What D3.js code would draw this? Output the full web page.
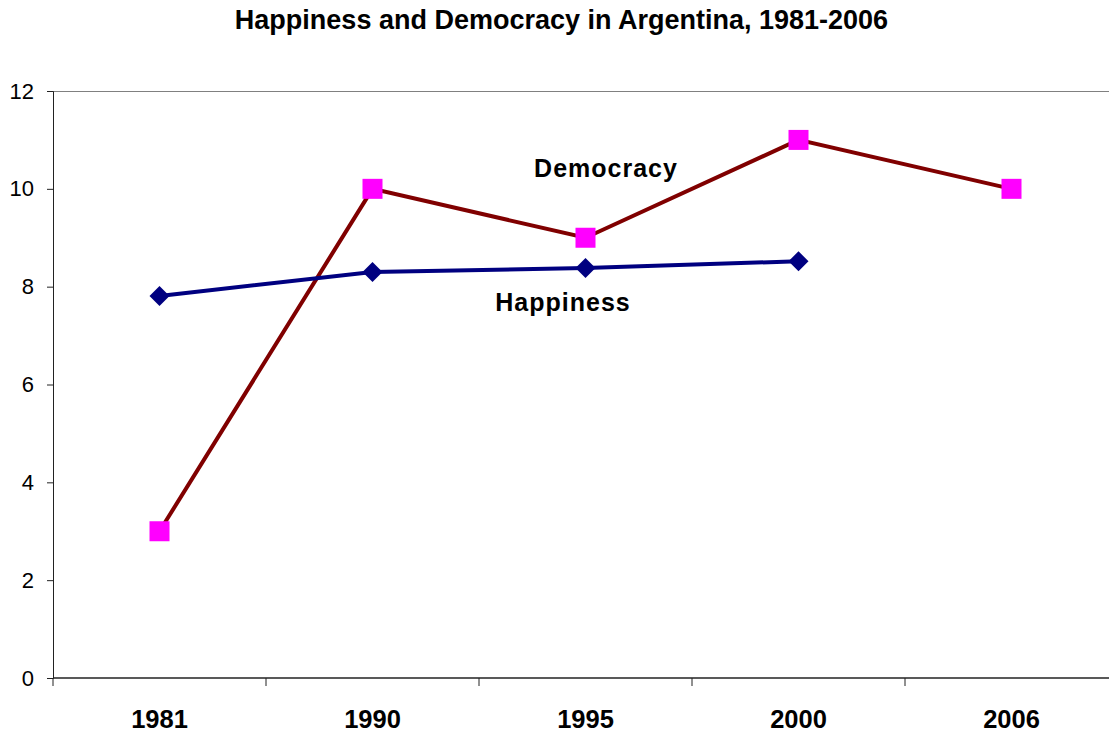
<!DOCTYPE html>
<html>
<head>
<meta charset="utf-8">
<script src="https://cdn.jsdelivr.net/npm/d3@7/dist/d3.min.js"></script>
<style>
  body { margin: 0; background: #fff; }
  svg { display: block; font-family: Arial, "Liberation Sans", sans-serif; }
</style>
</head>
<body>
<svg id="chart" width="1109" height="736"></svg>
<script>
const years = ["1981", "1990", "1995", "2000", "2006"];
const happiness = [7.81, 8.30, 8.38, 8.52, null];
const democracy = [3, 10, 9, 11, 10];
const yTicks = [0, 2, 4, 6, 8, 10, 12];

const svg = d3.select("#chart");
const W = 1109, H = 736;
const m = { left: 53, right: -9, top: 91, bottom: 58 };

const x = d3.scaleBand().domain(years).range([m.left, W - m.right]);
const y = d3.scaleLinear().domain([0, 12]).range([H - m.bottom, m.top]);

// title
svg.append("text")
  .attr("x", 561.5).attr("y", 29)
  .attr("text-anchor", "middle")
  .attr("font-size", 27).attr("font-weight", "bold")
  .text("Happiness and Democracy in Argentina, 1981-2006");

// top border of the plot area
svg.append("line")
  .attr("x1", m.left).attr("x2", W)
  .attr("y1", y(12) + 0.5).attr("y2", y(12) + 0.5)
  .attr("stroke", "#808080").attr("stroke-width", 1);

// y axis
const yAxis = svg.append("g")
  .attr("transform", `translate(${m.left},0)`)
  .call(d3.axisLeft(y).tickValues(yTicks).tickSize(6).tickPadding(13));
yAxis.selectAll("text").attr("font-size", 22).attr("fill", "#000")
  .attr("font-family", "Arial, 'Liberation Sans', sans-serif");
yAxis.selectAll("line, path").attr("stroke", "#222");

// x axis: ticks at band boundaries
const xAxisG = svg.append("g").attr("transform", `translate(0,${y(0)})`);
xAxisG.append("line")
  .attr("x1", m.left).attr("x2", W)
  .attr("y1", 0).attr("y2", 0)
  .attr("stroke", "#222").attr("stroke-width", 1.5);
xAxisG.selectAll("line.tick")
  .data(years)
  .join("line")
  .attr("class", "tick")
  .attr("x1", d => x(d)).attr("x2", d => x(d))
  .attr("y1", 0).attr("y2", 8)
  .attr("stroke", "#222");
xAxisG.selectAll("text")
  .data(years)
  .join("text")
  .attr("x", d => x(d) + x.bandwidth() / 2)
  .attr("y", 50)
  .attr("text-anchor", "middle")
  .attr("font-size", 25.5).attr("font-weight", "bold")
  .text(d => d);

const cx = d => x(d) + x.bandwidth() / 2;

// democracy line
const demoPts = years.map((d, i) => [cx(d), y(democracy[i])]);
svg.append("path")
  .attr("d", d3.line()(demoPts))
  .attr("fill", "none").attr("stroke", "#800000").attr("stroke-width", 4)
  .attr("stroke-linejoin", "miter");

// happiness line
const hapPts = years.map((d, i) => happiness[i] == null ? null : [cx(d), y(happiness[i])]).filter(p => p);
svg.append("path")
  .attr("d", d3.line()(hapPts))
  .attr("fill", "none").attr("stroke", "#000080").attr("stroke-width", 4);

// happiness markers (diamonds)
svg.selectAll("path.hap")
  .data(hapPts)
  .join("path")
  .attr("class", "hap")
  .attr("d", p => `M${p[0]},${p[1] - 10}L${p[0] + 10},${p[1]}L${p[0]},${p[1] + 10}L${p[0] - 10},${p[1]}Z`)
  .attr("fill", "#000080");

// democracy markers (squares)
svg.selectAll("rect.demo")
  .data(demoPts)
  .join("rect")
  .attr("class", "demo")
  .attr("x", p => p[0] - 10).attr("y", p => p[1] - 10)
  .attr("width", 20).attr("height", 20)
  .attr("fill", "#FF00FF");

// series labels
svg.append("text")
  .attr("x", 606).attr("y", 177)
  .attr("text-anchor", "middle")
  .attr("font-size", 25).attr("font-weight", "bold")
  .attr("letter-spacing", 1)
  .text("Democracy");
svg.append("text")
  .attr("x", 563).attr("y", 311)
  .attr("text-anchor", "middle")
  .attr("font-size", 25).attr("font-weight", "bold")
  .attr("letter-spacing", 1)
  .text("Happiness");
</script>
</body>
</html>
